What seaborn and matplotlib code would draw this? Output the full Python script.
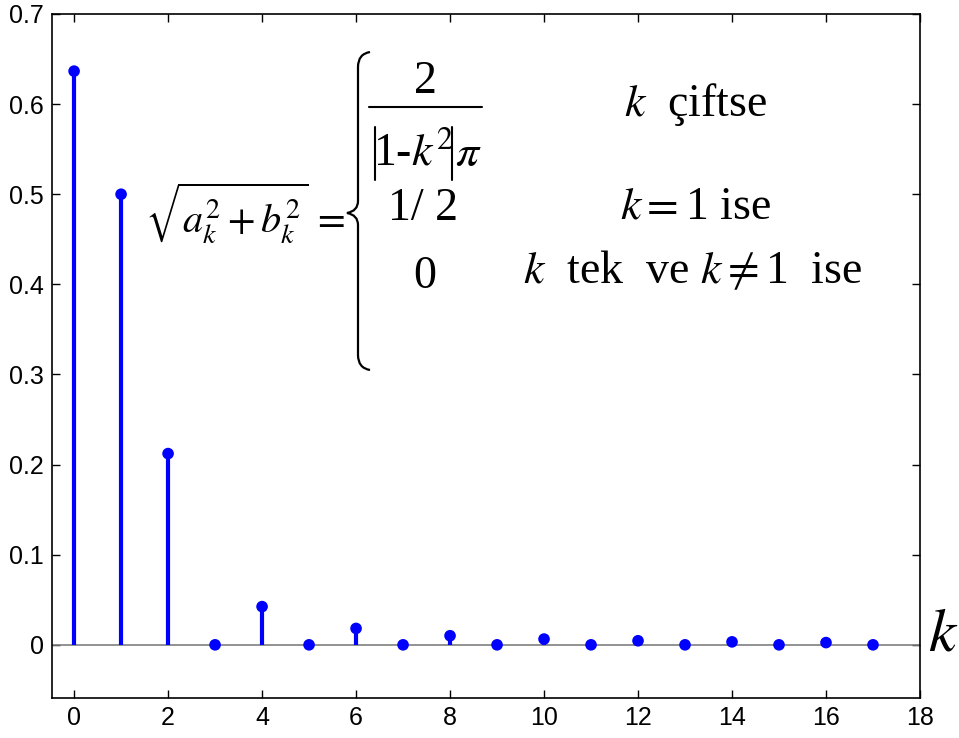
import numpy as np
import pandas as pd
import seaborn as sns
import matplotlib.pyplot as plt
from matplotlib.path import Path
from matplotlib.patches import PathPatch

# Fourier magnitudes sqrt(a_k^2 + b_k^2)
k_values = list(range(18))
magnitudes = [0.6366, 0.5, 0.2122, 0.0, 0.0424, 0.0, 0.0182, 0.0, 0.0101, 0.0,
              0.0064, 0.0, 0.0045, 0.0, 0.0033, 0.0, 0.0025, 0.0]
x_ticks = [0, 2, 4, 6, 8, 10, 12, 14, 16, 18]
y_ticks = [0, 0.1, 0.2, 0.3, 0.4, 0.5, 0.6, 0.7]
y_labels = ['0', '0.1', '0.2', '0.3', '0.4', '0.5', '0.6', '0.7']

df = pd.DataFrame({'k': k_values, 'mag': magnitudes})

sns.set_style('ticks')
plt.rcParams['font.family'] = ['Liberation Sans', 'DejaVu Sans']
plt.rcParams['mathtext.fontset'] = 'stix'
plt.rcParams['text.color'] = 'black'

W, H = 959, 738
fig = plt.figure(figsize=(W / 100, H / 100), dpi=100)
ax = fig.add_axes([52 / W, 1 - 698 / H, (920 - 52) / W, (698 - 14) / H])

ax.axhline(0, color='#7f7f7f', lw=1.2, zorder=1)
ax.vlines(df['k'], 0, df['mag'], color='#0000ff', lw=3, zorder=2)
sns.scatterplot(data=df, x='k', y='mag', ax=ax, color='#0000ff', s=70,
                edgecolor='none', zorder=3, legend=False)

ax.set_xlim(-0.47, 18)
ax.set_ylim(-0.059, 0.7)
ax.set_xticks(x_ticks)
ax.set_yticks(y_ticks)
ax.set_yticklabels(y_labels)
ax.set_xlabel('')
ax.set_ylabel('')
ax.tick_params(direction='in', top=True, right=True, length=6, width=1,
               labelsize=18, colors='black', pad=6)
for s in ax.spines.values():
    s.set_visible(True)
    s.set_linewidth(1.2)
    s.set_color('black')


def fx(px):
    return px / W


def fy(py):
    return 1 - py / H


def hline(x0, x1, y, lw=1.5):
    fig.add_artist(plt.Line2D([fx(x0), fx(x1)], [fy(y), fy(y)],
                              color='black', lw=lw, transform=fig.transFigure))


def vline(x, y0, y1, lw=1.5):
    fig.add_artist(plt.Line2D([fx(x), fx(x)], [fy(y0), fy(y1)],
                              color='black', lw=lw, transform=fig.transFigure))


serif = ['Liberation Serif', 'DejaVu Serif']
fs = 33

fig.text(fx(245), fy(213), r'$\sqrt{a_k^2+b_k^2}\,=$', fontsize=29,
         ha='center', va='center', family=serif)

# curly brace
bx, top, mid, bot = 358, 52, 213, 370
verts = [(bx + 12, top), (bx, top + 2), (bx, top + 15),
         (bx, mid - 12), (bx, mid - 2), (bx - 11, mid),
         (bx, mid + 2), (bx, mid + 12),
         (bx, bot - 15), (bx, bot - 2), (bx + 12, bot)]
codes = [Path.MOVETO, Path.CURVE3, Path.CURVE3, Path.LINETO, Path.CURVE3,
         Path.CURVE3, Path.CURVE3, Path.CURVE3, Path.LINETO, Path.CURVE3,
         Path.CURVE3]
verts = [(fx(a), fy(b)) for a, b in verts]
fig.patches.append(PathPatch(Path(verts, codes), transform=fig.transFigure,
                             fill=False, lw=1.6, color='black'))

fig.text(fx(425), fy(82), '2', fontsize=fs, ha='center', va='center',
         family=serif)
hline(369, 482, 107)
vline(375, 127, 180)
vline(452, 127, 180)
fig.text(fx(413), fy(154), r'1-$k^2$', fontsize=fs, ha='center',
         va='center', family=serif)
fig.text(fx(468), fy(155), r'$\pi$', fontsize=fs, ha='center',
         va='center', family=serif)
fig.text(fx(423), fy(209), '1/ 2', fontsize=fs, ha='center', va='center',
         family=serif)
fig.text(fx(425), fy(277), '0', fontsize=fs, ha='center', va='center',
         family=serif)

fig.text(fx(696), fy(105), r'$k$  çiftse', fontsize=fs, ha='center',
         va='center', family=serif)
fig.text(fx(695), fy(207), r'$k=$1 ise', fontsize=fs, ha='center',
         va='center', family=serif)
fig.text(fx(693), fy(272), r'$k$  tek  ve $k\neq$1  ise', fontsize=fs,
         ha='center', va='center', family=serif)

fig.text(fx(943), fy(636), r'$k$', fontsize=44, ha='center', va='center',
         family=serif)

fig.savefig('out.png', dpi=100)
